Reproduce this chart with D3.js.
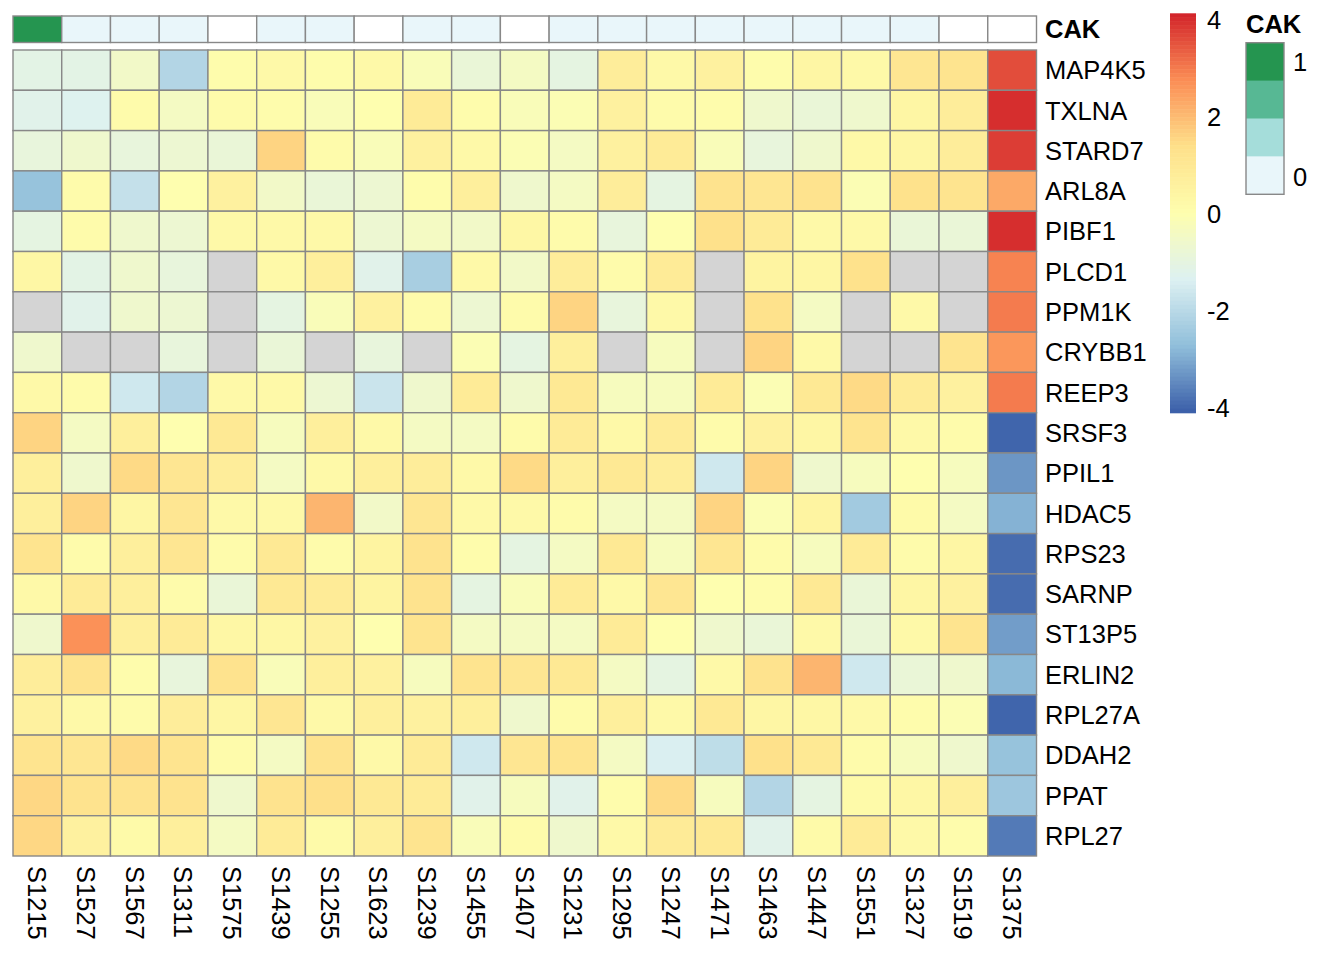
<!DOCTYPE html>
<html>
<head>
<meta charset="utf-8">
<script src="https://cdn.jsdelivr.net/npm/d3@7"></script>
<style>
  html, body { margin: 0; padding: 0; background: #fff; }
  svg text { font-family: "Liberation Sans", Arial, Helvetica, sans-serif; fill: #000; }
</style>
</head>
<body>
<div id="chart"></div>
<script>
// samples (columns) and genes (rows)
var samples = ["S1215","S1527","S1567","S1311","S1575","S1439","S1255","S1623","S1239","S1455","S1407",
               "S1231","S1295","S1247","S1471","S1463","S1447","S1551","S1327","S1519","S1375"];
var genes = ["MAP4K5","TXLNA","STARD7","ARL8A","PIBF1","PLCD1","PPM1K","CRYBB1","REEP3","SRSF3",
             "PPIL1","HDAC5","RPS23","SARNP","ST13P5","ERLIN2","RPL27A","DDAH2","PPAT","RPL27"];

// CAK annotation per sample (null = not available)
var cak = [1, 0, 0, 0, null, 0, 0, null, 0, 0, null, 0, 0, 0, 0, 0, 0, 0, 0, null, null];

// scaled expression, one array per gene, same order as samples (null = NA)
var MAP4K5 = [-1.1,-1.1,-0.5,-2.1,0.1,0.25,0.1,0.25,-0.2,-0.8,-0.4,-1.0,0.8,0.25,0.6,0.1,0.4,0.25,1.1,1.2,3.6];
var TXLNA  = [-1.2,-1.3,0.15,-0.4,0.15,0.1,-0.2,0.0,0.9,0.1,-0.2,-0.1,0.6,0.15,0.1,-0.6,-0.8,-0.6,0.4,0.8,4.0];
var STARD7 = [-0.9,-0.6,-0.9,-0.7,-0.8,1.6,0.15,-0.2,0.6,0.25,-0.1,-0.4,0.6,0.9,-0.2,-0.9,-0.6,0.25,0.4,0.8,3.8];
var ARL8A  = [-2.6,0.15,-1.8,0.0,0.6,-0.5,-0.8,-0.7,0.1,0.7,-0.6,-0.4,0.8,-1.0,1.25,1.1,1.25,-0.1,1.3,1.2,2.3];
var PIBF1  = [-1.0,0.15,-0.6,-0.7,0.25,0.25,0.25,-0.7,-0.4,-0.5,0.35,0.15,-0.9,0.0,1.35,0.9,0.25,0.25,-0.8,-0.8,4.0];
var PLCD1  = [0.35,-1.1,-0.6,-0.9,null,0.25,0.7,-1.2,-2.3,0.25,-0.5,0.8,0.15,0.9,null,0.5,0.4,1.3,null,null,2.9];
var PPM1K  = [null,-1.2,-0.6,-0.7,null,-1.0,-0.2,0.6,0.15,-0.7,0.15,1.6,-0.9,0.25,null,1.3,-0.4,null,0.25,null,3.0];
var CRYBB1 = [-0.6,null,null,-0.9,null,-0.8,null,-0.9,null,-0.1,-1.0,0.7,null,-0.3,null,1.6,0.25,null,null,1.2,2.6];
var REEP3  = [0.25,0.15,-1.6,-2.1,0.25,0.25,-0.7,-1.7,-0.6,0.9,-0.6,1.0,-0.3,-0.3,0.9,-0.1,1.0,1.5,0.9,0.6,3.0];
var SRSF3  = [1.6,-0.4,0.7,0.0,1.0,-0.3,0.7,0.25,-0.4,-0.4,0.15,0.9,0.25,0.9,0.15,0.6,0.4,1.2,0.25,0.15,-4.0];
var PPIL1  = [0.7,-0.6,1.5,1.1,0.8,-0.4,0.25,0.7,0.8,0.25,1.5,0.7,1.0,0.8,-1.6,1.6,-0.6,-0.3,0.0,-0.3,-3.3];
var HDAC5  = [0.7,1.6,0.4,1.1,0.25,0.25,2.1,-0.5,1.1,0.25,0.25,0.15,-0.4,-0.4,1.6,-0.1,0.5,-2.4,0.2,-0.4,-2.9];
var RPS23  = [1.2,0.15,0.7,1.1,0.15,1.0,0.15,0.5,1.25,0.1,-1.0,-0.4,1.0,-0.3,1.1,0.15,-0.3,0.9,0.15,0.4,-3.9];
var SARNP  = [0.25,0.9,0.7,0.15,-0.8,1.0,0.9,0.5,1.25,-1.0,-0.2,0.9,0.25,1.1,0.0,0.1,1.0,-0.8,0.4,0.6,-3.9];
var ST13P5 = [-0.6,2.7,0.7,0.9,0.35,0.35,0.6,0.0,1.2,-0.4,-0.4,-0.4,0.9,0.0,-0.6,-0.8,0.25,-0.8,0.25,1.2,-3.2];
var ERLIN2 = [0.8,1.25,0.1,-0.9,1.25,-0.2,0.7,0.6,-0.3,1.2,1.1,1.0,-0.4,-1.0,0.25,1.25,2.1,-1.6,-0.8,-0.6,-2.8];
var RPL27A = [0.6,0.25,0.15,0.8,0.4,1.1,0.25,0.7,0.6,0.7,-0.6,0.15,0.7,0.25,1.0,0.4,0.35,0.25,0.1,-0.1,-4.0];
var DDAH2  = [1.2,1.1,1.5,1.2,0.15,-0.4,1.25,0.25,0.9,-1.6,1.1,1.2,-0.4,-1.4,-1.9,1.35,1.0,0.15,-0.3,-0.6,-2.6];
var PPAT   = [1.55,1.25,1.25,1.25,-0.6,1.25,1.4,1.0,0.9,-1.2,-0.3,-1.2,0.1,1.5,-0.3,-2.1,-1.0,0.2,0.35,0.7,-2.5];
var RPL27  = [1.55,0.6,0.2,0.7,-0.4,0.9,0.2,0.7,1.2,-0.2,0.15,-0.6,0.25,0.9,1.0,-1.2,0.2,0.9,0.25,0.1,-3.7];

var rows = [MAP4K5,TXLNA,STARD7,ARL8A,PIBF1,PLCD1,PPM1K,CRYBB1,REEP3,SRSF3,
            PPIL1,HDAC5,RPS23,SARNP,ST13P5,ERLIN2,RPL27A,DDAH2,PPAT,RPL27];

var legendTicks = [4, 2, 0, -2, -4];
var valMin = -4.1, valMax = 4.14;

// ---- layout ----
var W = 1344, H = 960;
var hm = { left: 13, right: 1036.5, top: 50, bottom: 856 };
var ann = { top: 16, bottom: 42.5 };
var fontSize = 25.5;
var gridCol = "#888888", naCol = "#d4d4d4";

var svg = d3.select("#chart").append("svg")
  .attr("width", W).attr("height", H);

var x = d3.scaleBand().domain(samples).range([hm.left, hm.right]);
var y = d3.scaleBand().domain(genes).range([hm.top, hm.bottom]);

/* reversed RdYlBu style ramp, evenly spread between data min and max */
var palette = ["#3a5ea8","#90beda","#ddf1f2","#fefeae","#fee08a","#fb8d55","#d2232a"];
var color = d3.scaleLinear()
  .domain(d3.range(7).map(function(i) { return valMin + i * (valMax - valMin) / 6; }))
  .range(palette)
  .clamp(true);

var annColor = d3.scaleLinear()
  .domain([0, 1/3, 2/3, 1])
  .range(["#e9f6fa","#a5ddda","#57b894","#259550"]);

// cells
var cells = [];
rows.forEach(function(r, i) {
  r.forEach(function(v, j) { cells.push({ gene: genes[i], sample: samples[j], v: v }); });
});

svg.append("g").attr("class", "cells")
  .selectAll("rect").data(cells).enter().append("rect")
  .attr("x", function(d) { return x(d.sample); })
  .attr("y", function(d) { return y(d.gene); })
  .attr("width", x.bandwidth())
  .attr("height", y.bandwidth())
  .attr("fill", function(d) { return d.v == null ? naCol : color(d.v); })
  .attr("stroke", gridCol)
  .attr("stroke-width", 1.4);

// annotation row
svg.append("g").attr("class", "annotation")
  .selectAll("rect").data(cak).enter().append("rect")
  .attr("x", function(d, j) { return x(samples[j]); })
  .attr("y", ann.top)
  .attr("width", x.bandwidth())
  .attr("height", ann.bottom - ann.top)
  .attr("fill", function(d) { return d == null ? "#ffffff" : annColor(d); })
  .attr("stroke", gridCol)
  .attr("stroke-width", 1.4);

svg.append("text")
  .attr("x", 1045).attr("y", (ann.top + ann.bottom) / 2)
  .attr("dy", "0.358em")
  .style("font-size", fontSize + "px").style("font-weight", "bold")
  .text("CAK");

// row labels
svg.append("g").attr("class", "row-labels")
  .selectAll("text").data(genes).enter().append("text")
  .attr("x", 1045)
  .attr("y", function(d) { return y(d) + y.bandwidth() / 2; })
  .attr("dy", "0.358em")
  .style("font-size", fontSize + "px")
  .text(function(d) { return d; });

// column labels, rotated to read downward
svg.append("g").attr("class", "col-labels")
  .selectAll("text").data(samples).enter().append("text")
  .attr("transform", function(d) {
    return "translate(" + (x(d) + x.bandwidth() / 2) + "," + 866 + ") rotate(90)";
  })
  .attr("dy", "0.358em")
  .style("font-size", fontSize + "px")
  .text(function(d) { return d; });

// colour bar legend
var lg = { x: 1170, w: 26, top: 13.3, bottom: 412.7 };
var ly = d3.scaleLinear().domain([valMax, valMin]).range([lg.top, lg.bottom]);
var steps = d3.range(100).map(function(i) { return valMax - (i + 0.5) * (valMax - valMin) / 100; });
var stepH = (lg.bottom - lg.top) / 100;
svg.append("g").attr("class", "colorbar")
  .selectAll("rect").data(steps).enter().append("rect")
  .attr("x", lg.x)
  .attr("y", function(d, i) { return lg.top + i * stepH; })
  .attr("width", lg.w)
  .attr("height", stepH + 0.6)
  .attr("fill", function(d) { return color(d); });

var lAxis = d3.axisRight(ly)
  .tickValues(legendTicks)
  .tickSize(0)
  .tickPadding(11)
  .tickFormat(function(d) { return String(d); });
var lAxisG = svg.append("g")
  .attr("transform", "translate(" + (lg.x + lg.w) + ",0)")
  .call(lAxis);
lAxisG.select(".domain").remove();
lAxisG.selectAll("text")
  .style("font-size", fontSize + "px")
  .style("font-family", "'Liberation Sans', Arial, sans-serif")
  .attr("fill", "#000");

// CAK legend
var cl = { x: 1246, w: 38, top: 42.7, bottom: 194.3 };
var cakSteps = [1, 2/3, 1/3, 0];
var cbH = (cl.bottom - cl.top) / cakSteps.length;
svg.append("text")
  .attr("x", cl.x).attr("y", 24).attr("dy", "0.358em")
  .style("font-size", fontSize + "px").style("font-weight", "bold")
  .text("CAK");
svg.append("g").selectAll("rect").data(cakSteps).enter().append("rect")
  .attr("x", cl.x)
  .attr("y", function(d, i) { return cl.top + i * cbH; })
  .attr("width", cl.w)
  .attr("height", cbH + 0.5)
  .attr("fill", function(d) { return annColor(d); });
svg.append("rect")
  .attr("x", cl.x).attr("y", cl.top)
  .attr("width", cl.w).attr("height", cl.bottom - cl.top)
  .attr("fill", "none").attr("stroke", gridCol).attr("stroke-width", 1.4);
svg.append("text")
  .attr("x", 1293).attr("y", 61.7).attr("dy", "0.358em")
  .style("font-size", fontSize + "px").text("1");
svg.append("text")
  .attr("x", 1293).attr("y", 176.7).attr("dy", "0.358em")
  .style("font-size", fontSize + "px").text("0");
</script>
</body>
</html>
